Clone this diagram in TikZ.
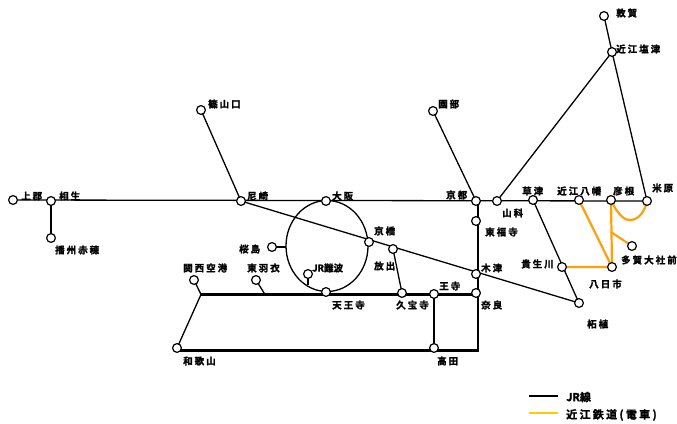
\documentclass[tikz,border=0pt]{standalone}
\usepackage{fontspec}
\newfontfamily\jpf[LetterSpace=21,BoldFont={Noto Sans CJK JP Bold},BoldFeatures={FakeBold=1.6}]{Noto Sans CJK JP}
\newfontfamily\jpt[BoldFont={Noto Sans CJK JP Bold},BoldFeatures={FakeBold=1.6}]{Noto Sans CJK JP}
\definecolor{omic}{RGB}{255,160,10}
\definecolor{lgy}{RGB}{255,204,0}
\begin{document}
\begin{tikzpicture}[x=1pt,y=-1pt,
  stn/.style={circle,draw=black,fill=white,line width=1.2pt,minimum size=8.8pt,inner sep=0pt},
  lbl/.style={font=\jpf\bfseries\fontsize{9.5}{10}\selectfont,anchor=west,inner sep=0pt,text=black},
  lgl/.style={font=\jpf\bfseries\fontsize{11}{12}\selectfont,anchor=west,inner sep=0pt,text=black},
  jr/.style={draw=black,line width=1.3pt},
  jrt/.style={draw=black,line width=2.6pt},
  omi/.style={draw=omic,line width=2.2pt}]
\useasboundingbox (0,0) rectangle (677,423);
\clip (0,0) rectangle (677,423);
\coordinate (kam) at (13,200);\coordinate (aio) at (51,201);\coordinate (ban) at (51,238);
\coordinate (sas) at (201,110);\coordinate (ama) at (241,201);\coordinate (osa) at (326,201);
\coordinate (kyo) at (476,201);\coordinate (yam) at (497,201);\coordinate (tof) at (476,221);
\coordinate (kus) at (533,200);\coordinate (hac) at (579,200);\coordinate (hik) at (611,200);
\coordinate (mai) at (647,201);\coordinate (shi) at (612,52);\coordinate (tsu) at (604,16);
\coordinate (son) at (433,111);\coordinate (kbs) at (369,242);\coordinate (han) at (393,249);
\coordinate (kiz) at (476,274);\coordinate (tsg) at (579,303);\coordinate (kib) at (562,267);
\coordinate (yok) at (612,267);\coordinate (tag) at (632,246);\coordinate (sak) at (272,247);
\coordinate (nmb) at (308,274);\coordinate (ten) at (326,292);\coordinate (kyu) at (402,293);
\coordinate (oji) at (434,294);\coordinate (nar) at (476,293);\coordinate (tak) at (434,348);
\coordinate (wak) at (177,348);\coordinate (kan) at (194,280);\coordinate (hag) at (256,280);
\coordinate (jn1) at (201,294.5);\coordinate (jn2) at (265,294.5);\coordinate (jn3) at (476,294.5);
\coordinate (bl) at (177,350.5);\coordinate (cor) at (478,350.5);\coordinate (topr) at (478,201);
\coordinate (sakj) at (286,247);\coordinate (nmbj) at (308,285);\coordinate (tagj) at (611,232);
\coordinate (lg1) at (529,396);\coordinate (lg2) at (558,396);\coordinate (lg3) at (529,413);\coordinate (lg4) at (558,413);
% JR lines
\draw[jr] (kam) -- (mai);
\draw[jr] (aio) -- (ban);
\draw[jr] (sas) -- (ama);
\draw[jr] (son) -- (kyo);
\draw[jr] (yam) -- (shi);
\draw[jr] (tsu) -- (shi) -- (mai);
\draw[jr] (ama) -- (tsg);
\draw[jr] (kus) -- (tsg);
\draw[jr] (327,246) ellipse (41 and 45.5);
\draw[jr] (sak) -- (sakj);
\draw[jr] (nmb) -- (nmbj);
\draw[jr] (han) -- (kyu);
\draw[jr] (oji) -- (tak);
\draw[jr] (kan) -- (jn1) -- (wak);
\draw[jr] (hag) -- (jn2);
\draw[jrt] (jn1) -- (jn3);
\draw[jrt] (bl) -- (cor) -- (topr);
% Omi
\draw[omi] (hac) -- (yok);
\draw[omi] (hik) -- (yok) -- (kib);
\draw[omi] (tagj) -- (tag);
\draw[omi] (hik) .. controls (618,216) and (626,221) .. (631,220) .. controls (640,219) and (645,210) .. (mai);
% stations
\foreach \c/\n in {kam/a,aio/b,ban/c,sas/d,ama/e,osa/f,kyo/g,yam/h,tof/i,kus/j,hac/k,hik/l,mai/m,shi/n,tsu/o,son/p,kbs/q,han/r,kiz/s,tsg/t,kib/u,yok/v,tag/w,sak/x,nmb/y,ten/z,kyu/aa,oji/ab,nar/ac,tak/ad,wak/ae,kan/af,hag/ag}
  \node[stn] (s\n) at (\c) {};
% labels
\node[lbl] (l1) at (21,196) {上郡};
\node[lbl] (l2) at (59,196) {相生};
\node[lbl] (l3) at (55,250) {播州赤穂};
\node[lbl] (l4) at (208,104) {篠山口};
\node[lbl] (l5) at (247,196) {尼崎};
\node[lbl] (l6) at (332,196) {大阪};
\node[lbl] (l7) at (446,195) {京都};
\node[lbl] (l8) at (502,213) {山科};
\node[lbl] (l9) at (485,232) {東福寺};
\node[lbl] (l10) at (522,191) {草津};
\node[lbl] (l11) at (557,191) {近江八幡};
\node[lbl] (l12) at (613,191) {彦根};
\node[lbl] (l13) at (652,188) {米原};
\node[lbl] (l14) at (616,49) {近江塩津};
\node[lbl] (l15) at (616,13) {敦賀};
\node[lbl] (l16) at (438,104) {園部};
\node[lbl] (l17) at (374,231) {京橋};
\node[lbl] (l18) at (374,266) {放出};
\node[lbl] (l19) at (481,268) {木津};
\node[lbl] (l20) at (587,324) {柘植};
\node[lbl] (l21) at (521,264) {貴生川};
\node[lbl] (l22) at (589,284) {八日市};
\node[lbl] (l23) at (621,260) {多賀大社前};
\node[lbl] (l24) at (239,249) {桜島};
\node[lbl,font=\jpt\bfseries\fontsize{9.5}{10}\selectfont] (l25) at (312,268) {JR難波};
\node[lbl] (l26) at (332,305) {天王寺};
\node[lbl] (l27) at (396,305) {久宝寺};
\node[lbl] (l28) at (439,286) {王寺};
\node[lbl] (l29) at (481,305) {奈良};
\node[lbl] (l30) at (437,361) {高田};
\node[lbl] (l31) at (183,361) {和歌山};
\node[lbl] (l32) at (183,268) {関西空港};
\node[lbl] (l33) at (247,268) {東羽衣};
% legend
\draw[draw=black,line width=2.2pt] (lg1) -- (lg2);
\draw[draw=lgy,line width=2.2pt] (lg3) -- (lg4);
\node[lgl,font=\jpt\bfseries\fontsize{11}{12}\selectfont] (l34) at (566,397) {JR線};
\node[lgl] (l35) at (566,415) {近江鉄道(電車)};
\end{tikzpicture}
\end{document}
